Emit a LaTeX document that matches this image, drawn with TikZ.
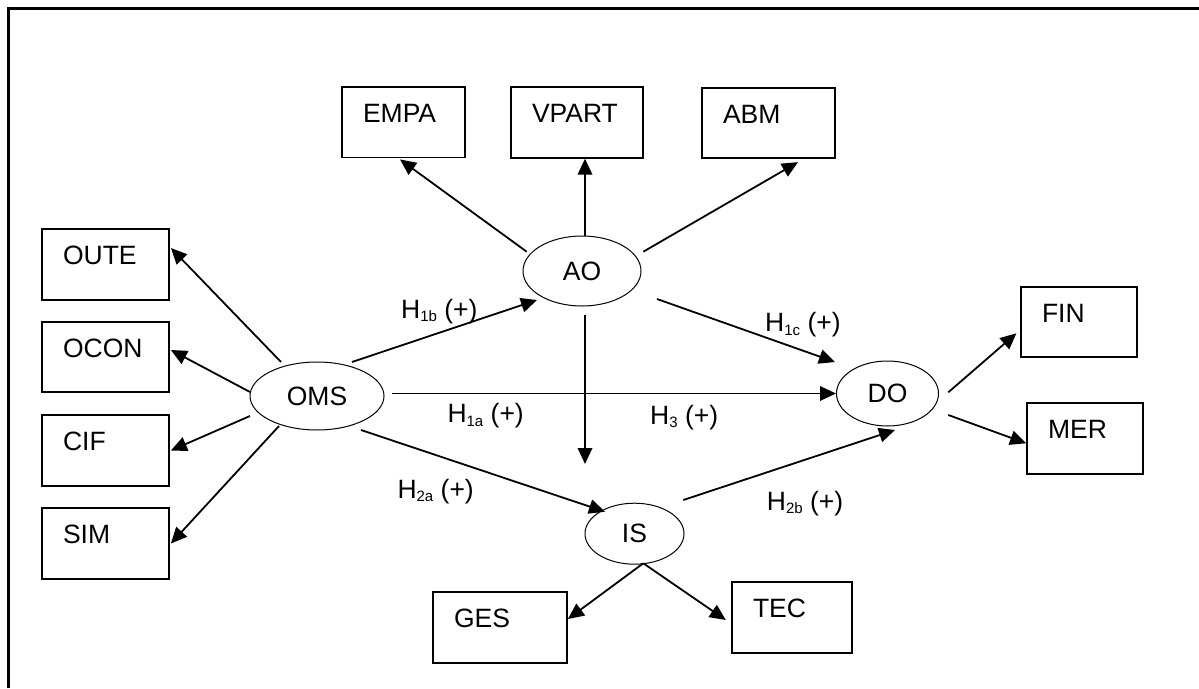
\documentclass[tikz,border=0pt]{standalone}
\usepackage{fontspec}
\setmainfont{Liberation Sans}
\usetikzlibrary{arrows.meta,shapes.geometric}
\newcommand\subx[1]{\raisebox{-3.5pt}{\fontsize{15}{15}\selectfont #1}}
\begin{document}
\begin{tikzpicture}[x=1pt,y=-1pt, font=\fontsize{26.5}{30}\selectfont,
  vbox/.style={draw, line width=1.8pt, inner xsep=21pt, inner ysep=0pt, text height=35.5pt, text depth=35pt, align=left},
  lat/.style={draw, ellipse, line width=1pt, inner sep=0pt},
  arr/.style={line width=1.8pt, -{Triangle[length=16pt,width=14.5pt]}},
  hyp/.style={anchor=base west, inner sep=0pt},
  frame/.style={line width=3pt}]
\useasboundingbox (0,0) rectangle (1199,688);
% frame
\coordinate (fa) at (8.5,688);
\coordinate (fb) at (8.5,8);
\coordinate (fc) at (1199,8);
\draw[frame] (fa) -- (fb) -- (fc);
% indicator boxes
\node[vbox, text width=85pt] (oute) at (105.5,264.5) {OUTE};
\node[vbox, text width=85pt] (ocon) at (105.5,357) {OCON};
\node[vbox, text width=85pt] (cif) at (105.5,450.5) {CIF};
\node[vbox, text width=85pt] (sim) at (105.5,543.5) {SIM};
\node[vbox, text width=81pt] (empa) at (403.5,122.3) {EMPA};
\node[vbox, text width=90pt] (vpart) at (577,122.5) {VPART};
\node[vbox, text width=91pt] (abm) at (768.5,123) {ABM};
\node[vbox, text width=74pt] (fin) at (1079,322) {FIN};
\node[vbox, text width=74pt] (mer) at (1085,438.5) {MER};
\node[vbox, text width=92pt] (ges) at (500,627.5) {GES};
\node[vbox, text width=78pt] (tec) at (792,617.5) {TEC};
% latent variables
\node[lat, minimum width=134pt, minimum height=68pt] (oms) at (317,396) {OMS};
\node[lat, minimum width=118pt, minimum height=70pt] (ao) at (582,271) {AO};
\node[lat, minimum width=102pt, minimum height=65pt] (dorg) at (887.5,393.5) {DO};
\node[lat, minimum width=99pt, minimum height=61pt] (is) at (634.5,533.7) {IS};
\coordinate (aoend) at (585,464);
% connectors
\draw[arr] ([shift={(-36,-34)}]oms.center) -- ([shift={(1,-16.5)}]oute.east);
\draw[arr] ([shift={(-67,-4)}]oms.center) -- ([shift={(1,-7)}]ocon.east);
\draw[arr] ([shift={(-67,20)}]oms.center) -- ([shift={(1,0)}]cif.east);
\draw[arr] ([shift={(-38,30)}]oms.center) -- ([shift={(1,0)}]sim.east);
\draw[arr] ([shift={(35,-34)}]oms.center) -- ([shift={(-45,29)}]ao.center);
\draw[arr] ([shift={(75,-2.5)}]oms.center) -- (dorg.west);
\draw[arr] ([shift={(44,34)}]oms.center) -- ([shift={(-29.5,-22)}]is.center);
\draw[arr] ([shift={(-55.3,-19.3)}]ao.center) -- ([shift={(-3.5,1)}]empa.south);
\draw[arr] ([shift={(3,-35)}]ao.center) -- ([shift={(8,0)}]vpart.south);
\draw[arr] ([shift={(61.3,-19.3)}]ao.center) -- ([shift={(29.5,3)}]abm.south);
\draw[arr] ([shift={(75,28)}]ao.center) -- ([shift={(-52.5,-31.5)}]dorg.center);
\draw[arr] ([shift={(3,44)}]ao.center) -- (aoend);
\draw[arr] ([shift={(48.8,-33.7)}]is.center) -- ([shift={(7.5,36.5)}]dorg.center);
\draw[arr] ([shift={(8.8,29.6)}]is.center) -- ([shift={(0,-8.5)}]ges.east);
\draw[arr] ([shift={(8.8,29.6)}]is.center) -- ([shift={(-5.3,2.5)}]tec.west);
\draw[arr] ([shift={(60.8,-1.2)}]dorg.center) -- ([shift={(-3.7,11.3)}]fin.west);
\draw[arr] ([shift={(60.8,21.5)}]dorg.center) -- ([shift={(0,4.8)}]mer.west);
% hypothesis labels
\node[hyp] (h1b) at (401,318.3) {H\subx{1b} (+)};
\node[hyp] (h1a) at (447.3,422.7) {H\subx{1a} (+)};
\node[hyp] (h3) at (650,424.3) {H\subx{3} (+)};
\node[hyp] (h1c) at (765,331.5) {H\subx{1c} (+)};
\node[hyp] (h2a) at (397.3,498.3) {H\subx{2a} (+)};
\node[hyp] (h2b) at (766.7,510) {H\subx{2b} (+)};
\end{tikzpicture}
\end{document}
